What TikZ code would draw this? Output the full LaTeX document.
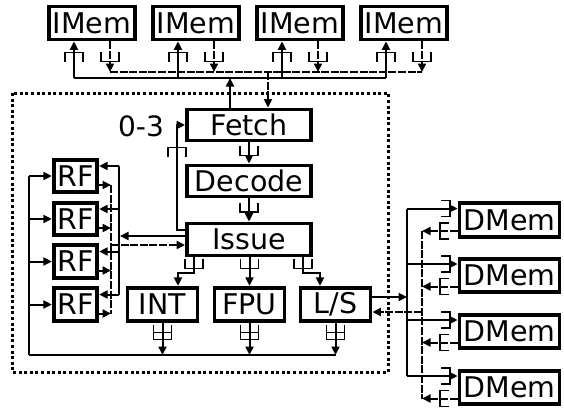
\documentclass[tikz,border=0pt]{standalone}
\usepackage{fontspec}
\setmainfont{DejaVu Sans}
\usetikzlibrary{arrows.meta}
\tikzset{
  qd/.pic={\draw[line width=1.8pt] (-9,-5) -- (-9,4.5) -- (9,4.5) -- (9,-5);},
  qu/.pic={\draw[line width=1.8pt] (-9,5) -- (-9,-4.5) -- (9,-4.5) -- (9,5);},
  qr/.pic={\draw[line width=1.8pt] (-5,-8) -- (4,-8) -- (4,8) -- (-5,8);},
  ql/.pic={\draw[line width=1.8pt] (5,-8) -- (-4,-8) -- (-4,8) -- (5,8);},
  qqd/.pic={\draw[line width=1.8pt] (-9,-8) -- (-9,7) -- (9,7) -- (9,-8); \draw[line width=1.8pt] (-9,0) -- (9,0);},
}
\begin{document}
\begin{tikzpicture}[x=1pt,y=-1pt,
  blk/.style={draw, line width=3.8pt, inner sep=0pt, font=\fontsize{28.5pt}{30pt}\selectfont},
  lbl/.style={inner sep=0pt, font=\fontsize{28pt}{30pt}\selectfont},
  ln/.style={line width=2pt},
  dl/.style={line width=2pt, dash pattern=on 8pt off 1.6pt},
  tip/.style={-{Triangle[length=8.5pt,width=8pt]}},
]
\fill[white] (0,0) rectangle (564,408);
\useasboundingbox (0,0) rectangle (564,408);

% IMem boxes
\foreach \i/\x in {1/92,2/196,3/300,4/404}
  \node[blk, minimum width=86pt, minimum height=33pt] (im\i) at (\x,23) {IMem};

% core pipeline
\node[blk, minimum width=124pt, minimum height=31pt] (fetch) at (249,125) {Fetch};
\node[blk, minimum width=124pt, minimum height=31pt] (decode) at (249,181) {Decode};
\node[blk, minimum width=124pt, minimum height=32pt] (issue) at (249,239.5) {Issue};
\node[blk, minimum width=70pt, minimum height=33.5pt] (int) at (162.5,304.5) {INT};
\node[blk, minimum width=70pt, minimum height=33.5pt] (fpu) at (249.5,304.5) {FPU};
\node[blk, minimum width=70pt, minimum height=33.5pt] (ls) at (335.5,304.5) {L/S};
\foreach \i/\y in {1/176,2/219,3/261.5,4/304.5}
  \node[blk, minimum width=43.5pt, minimum height=32.5pt] (rf\i) at (75.5,\y) {RF};
\foreach \i/\y in {1/220,2/275.5,3/331.5,4/387.5}
  \node[blk, minimum width=100pt, minimum height=33.5pt] (dm\i) at (509.5,\y) {DMem};
\node[lbl] (cnt) at (141,126) {0-3};

% dotted core boundary
\draw[line width=3pt, dash pattern=on 3pt off 2.6pt] (12,93) rectangle (388,372);

% IMem connections
\foreach \i/\xu/\xd in {1/74/110,2/178/214,3/282/318,4/386/422} {
  \coordinate (u\i) at (\xu,78);
  \coordinate (d\i) at (\xd,72);
  \draw[ln,tip] (u\i) -- (u\i |- im\i.south);
  \draw[dl,tip] (d\i |- im\i.south) -- (d\i);
  \pic at (\xu,57) {qu};
  \pic at (\xd,57) {qd};
}
\draw[ln] (u1) -- (u4);
\draw[dl] (d1) -- (d4);
\coordinate (fu) at (230,78);
\coordinate (fd) at (268,72);
\draw[ln,tip] (fu |- fetch.north) -- (fu);
\draw[dl,tip] (fd) -- (fd |- fetch.north);

% pipeline
\draw[ln,tip] (fetch.south) -- (decode.north);
\pic at (249,151) {qd};
\draw[ln,tip] (decode.south) -- (issue.north);
\pic at (249,207.5) {qd};

% feedback issue -> fetch
\coordinate (fb) at (177,230);
\draw[ln,tip] (issue.west |- fb) -- (fb) -- (fb |- fetch.west) -- (fetch.west);
\pic at (177,152) {qu};

% issue -> units
\coordinate (i1) at (194,273);
\coordinate (i1b) at (178,273);
\draw[ln,tip] (issue.south -| i1) -- (i1) -- (i1b) -- (i1b |- int.north);
\pic at (194,264) {qd};
\draw[ln,tip] (issue.south -| fpu.north) -- (fpu.north);
\pic at (249.5,264) {qd};
\coordinate (i3) at (303,273);
\coordinate (i3b) at (320,273);
\draw[ln,tip] (issue.south -| i3) -- (i3) -- (i3b) -- (i3b |- ls.north);
\pic at (303,264) {qd};

% units -> write-back bus -> RF
\coordinate (bus) at (29,355);
\foreach \u in {int,fpu,ls} {
  \draw[ln,tip] (\u.south) -- (\u.south |- bus);
  \pic at (\u.south |- 0,332.5) {qqd};
}
\draw[ln] (bus) -- (ls.south |- bus);
\draw[ln] (bus) -- (bus |- rf1);
\foreach \i in {1,2,3,4}
  \draw[ln,tip] (bus |- rf\i) -- (rf\i.west);

% RF read ports
\foreach \i/\y in {1/176,2/219,3/261.5,4/304.5} {
  \coordinate (ri\i) at (119,\y-10);
  \coordinate (ro\i) at (111,\y+9);
  \draw[ln,tip] (ri\i) -- (ri\i -| rf\i.east);
  \draw[ln,tip] (ro\i -| rf\i.east) -- (ro\i);
}
\draw[ln] (ri1) -- (ri4);
\draw[dl] (ro1) -- (ro4);
\coordinate (ia) at (120,236);
\coordinate (ib) at (111,245);
\draw[ln,tip] (issue.west |- ia) -- (ia);
\draw[dl,tip] (ib) -- (issue.west |- ib);

% L/S <-> DMem
\coordinate (lo) at (407,297);
\coordinate (li) at (422,312);
\draw[ln,tip] (ls.east |- lo) -- (lo);
\draw[dl,tip] (li) -- (ls.east |- li);
\foreach \i/\y in {1/220,2/275.5,3/331.5,4/387.5} {
  \coordinate (mi\i) at (407,\y-11.5);
  \coordinate (mo\i) at (422,\y+11);
  \draw[ln,tip] (mi\i) -- (mi\i -| dm\i.west);
  \draw[dl,tip] (mo\i -| dm\i.west) -- (mo\i);
  \pic at (446,\y-11.5) {qr};
  \pic at (444,\y+11) {ql};
}
\draw[ln] (mi1) -- (mi4);
\draw[dl] (mo1) -- (mo4);
\end{tikzpicture}
\end{document}
